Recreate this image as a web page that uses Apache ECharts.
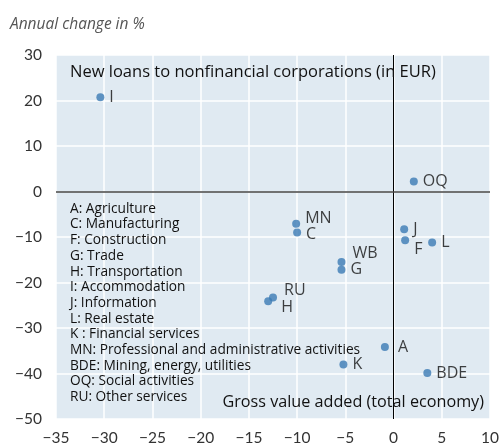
<!DOCTYPE html>
<html>
<head>
<meta charset="utf-8">
<script src="https://cdn.jsdelivr.net/npm/echarts@6/dist/echarts.min.js"></script>
<style>
  html, body { margin: 0; padding: 0; background: #fff; }
  #chart { width: 502px; height: 448px; }
</style>
</head>
<body>
<div id="chart"></div>
<script>
// sectors: code, gross value added change (x), new loans change (y)
const codes = ['I', 'OQ', 'MN', 'C', 'J', 'F', 'L', 'WB', 'G', 'RU', 'H', 'A', 'K', 'BDE'];
const gva = [-30.4, 2.1, -10.1, -10.0, 1.1, 1.2, 4.0, -5.4, -5.4, -12.5, -13.0, -0.9, -5.2, 3.5];
const loans = [20.7, 2.2, -7.1, -9.0, -8.3, -10.7, -11.2, -15.5, -17.2, -23.3, -24.1, -34.2, -38.0, -39.9];

const xTicks = [-35, -30, -25, -20, -15, -10, -5, 0, 5, 10];
const yTicks = [-50, -40, -30, -20, -10, 0, 10, 20, 30];

const legendLines = [
  'A: Agriculture',
  'C: Manufacturing',
  'F: Construction',
  'G: Trade',
  'H: Transportation',
  'I: Accommodation',
  'J: Information',
  'L: Real estate',
  'K : Financial services',
  'MN: Professional and administrative activities',
  'BDE: Mining, energy, utilities',
  'OQ: Social activities',
  'RU: Other services'
];

// label nudges (pixels) per point
const nudge = {
  MN: [0, -5], C: [0, 2], F: [0, 9], WB: [2, -9], RU: [2, -7], H: [4, 6], A: [4, 0]
};

const font = '"Open Sans", Lato, sans-serif';
const tickFont = 'Lato, "Open Sans", sans-serif';
const minus = v => String(v).replace('-', '\u2212');

const chart = echarts.init(document.getElementById('chart'));

const points = codes.map((c, i) => {
  const off = nudge[c] || [0, 0];
  return {
    name: c,
    value: [gva[i], loans[i]],
    label: { offset: off }
  };
});

chart.setOption({
  animation: false,
  grid: {
    left: 56, right: 11, top: 55, bottom: 29,
    show: true, backgroundColor: '#e0eaf2', borderWidth: 0
  },
  xAxis: {
    type: 'value', min: xTicks[0], max: xTicks[xTicks.length - 1], interval: 5,
    axisLine: { show: false }, axisTick: { show: false },
    axisLabel: { color: '#333', fontSize: 15.5, fontFamily: tickFont, margin: 11, formatter: minus },
    splitLine: { lineStyle: { color: '#fff', width: 1.5 } }
  },
  yAxis: {
    type: 'value', min: yTicks[0], max: yTicks[yTicks.length - 1], interval: 10,
    axisLine: { show: false }, axisTick: { show: false },
    axisLabel: { color: '#333', fontSize: 15.5, fontFamily: tickFont, margin: 14, formatter: minus },
    splitLine: { lineStyle: { color: '#fff', width: 1.5 } }
  },
  series: [{
    type: 'scatter',
    symbolSize: 8,
    itemStyle: { color: '#3b7bb4' },
    data: points,
    label: {
      show: true, position: 'right', distance: 5,
      formatter: p => p.name,
      color: '#111', fontSize: 16, fontFamily: font
    },
    markLine: {
      silent: true, symbol: 'none', label: { show: false },
      data: [
        { xAxis: 0, lineStyle: { color: '#000', width: 1, type: 'solid' } },
        { yAxis: 0, lineStyle: { color: '#444', width: 1.5, type: 'solid' } }
      ]
    },
    z: 5
  }],
  graphic: [
    {
      type: 'text', left: 10, top: 16, z: 100,
      style: { text: 'Annual change in %', fill: '#555', fontSize: 15.5, lineHeight: 18, fontStyle: 'italic', fontFamily: font }
    },
    {
      type: 'text', left: 70, top: 62, z: 100,
      style: { text: 'New loans to nonfinancial corporations (in EUR)', fill: '#111', fontSize: 16.5, lineHeight: 20, fontFamily: font }
    },
    {
      type: 'text', right: 18, top: 392, z: 100,
      style: { text: 'Gross value added (total economy)', fill: '#111', fontSize: 16.2, lineHeight: 20, fontFamily: font }
    },
    {
      type: 'text', left: 70, top: 201, z: 100,
      style: { text: legendLines.join('\n'), fill: '#111', fontSize: 13.7, lineHeight: 15.7, fontFamily: font }
    }
  ]
});
</script>
</body>
</html>
